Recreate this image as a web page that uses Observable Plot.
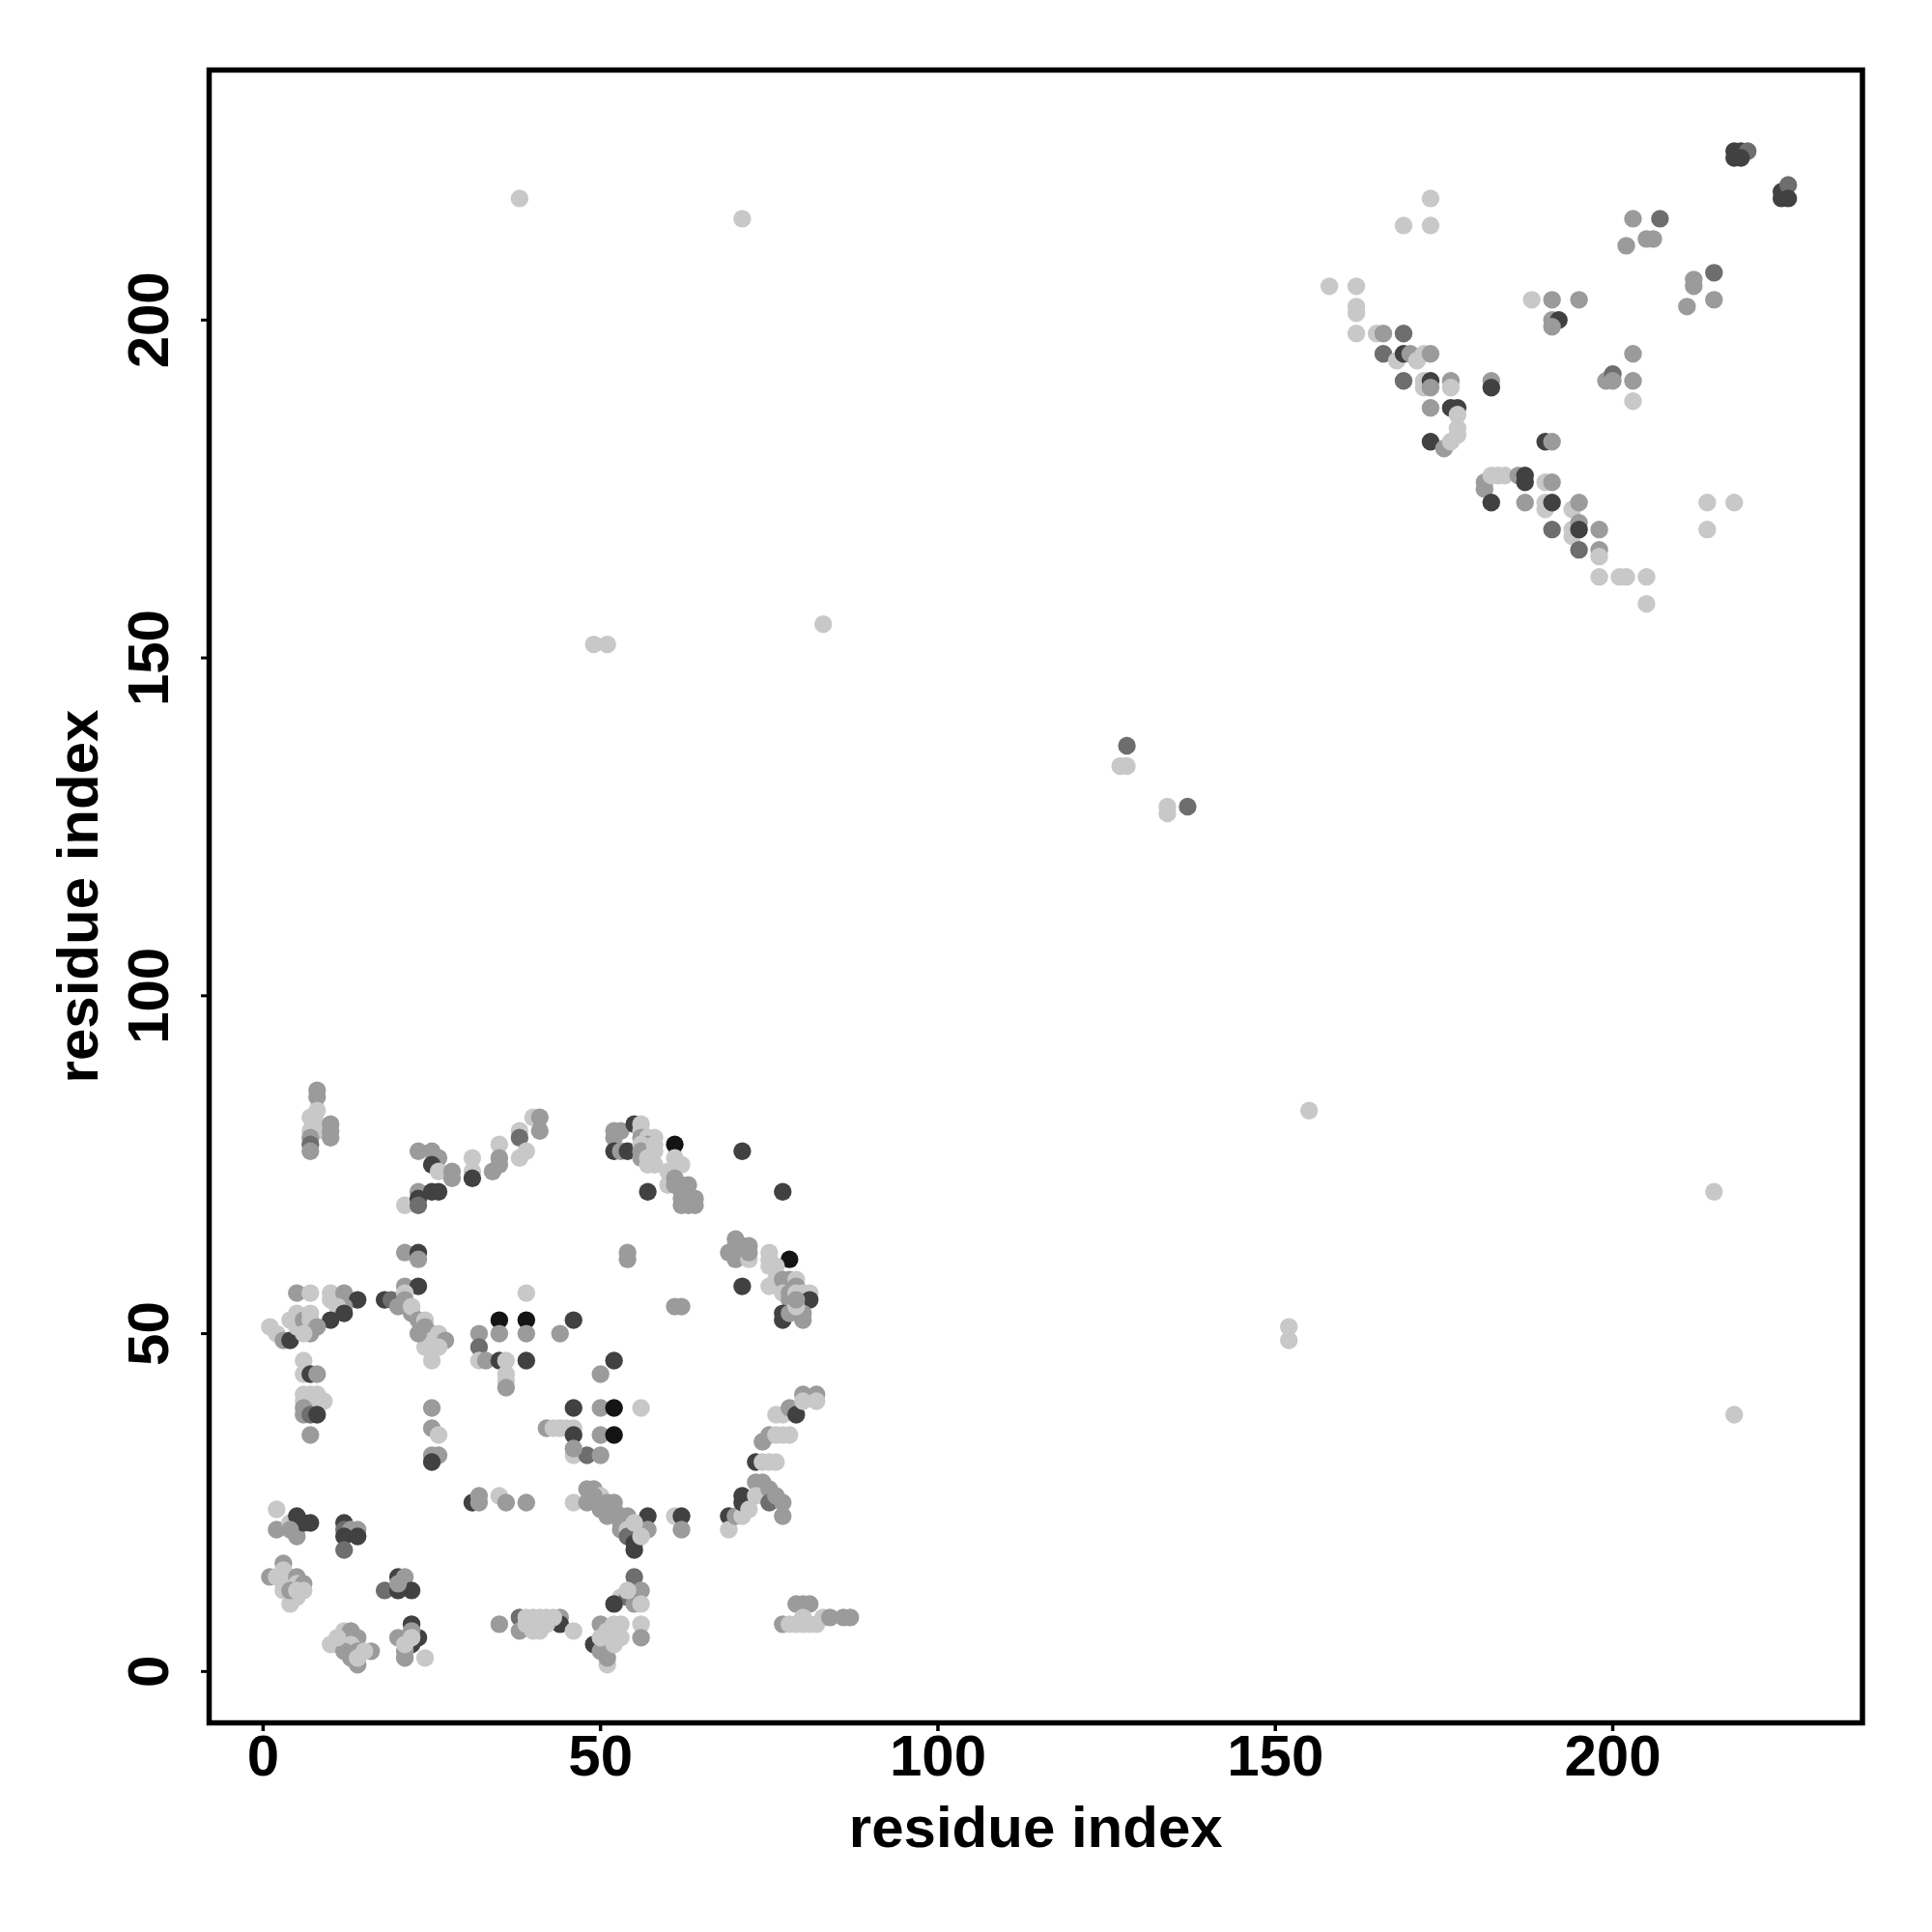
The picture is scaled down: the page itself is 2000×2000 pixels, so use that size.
<!DOCTYPE html>
<html>
<head>
<meta charset="utf-8">
<script src="https://cdn.jsdelivr.net/npm/d3@7"></script>
<script src="https://cdn.jsdelivr.net/npm/@observablehq/plot@0.6"></script>
<style>
  html, body { margin: 0; padding: 0; background: #ffffff; }
  #chart { width: 2000px; height: 2000px; }
</style>
</head>
<body>
<div id="chart"></div>
<script>
// Each contact: [residue i, residue j, contact strength level 1 (weak) .. 5 (strong)]
const lowerColumns = [
  [8,86,2],[8,85,2],[8,83,1],[7,82,1],[8,81,1],[8,80,1],[7,80,1],[7,79,2],[7,78,3],[7,77,2],
  [10,81,2],[10,80,2],[10,79,2],
  [6,46,1],[6,44,1],[7,44,4],[8,44,2],[6,41,1],[7,41,1],[8,41,1],[6,40,1],[7,40,1],[8,40,1],[9,40,1],
  [6,39,2],[6,38,2],[7,38,3],[8,38,4],[7,35,2]
];
const lowerDiagonalTop = [
  [21,69,1],[23,71,2],[23,70,4],[23,69,3],[23,77,2],[25,77,2],[26,76,2],[25,75,4],[26,74,1],[25,71,4],
  [26,71,4],[28,73,2],[28,74,2],[31,76,1],[31,74,1],[31,73,4],[34,74,2],[35,78,1],[35,76,2],[35,75,2],
  [38,80,1],[38,79,3],[39,77,1],[38,76,1],[40,82,1],[41,82,2],[41,80,2],
  [21,62,2],[23,62,4],[23,61,2],[21,57,2],[23,57,4]
];
const lowerLeftBlock = [
  [5,56,2],[7,56,1],[10,56,1],[10,55,1],[12,56,2],[14,55,4],[12,54,2],[11,54,1],[10,52,4],[12,53,4],
  [1,51,1],[2,50,1],[3,49,2],[4,49,4],[4,52,1],[5,53,1],[5,51,1],[6,52,2],[7,53,1],[7,52,1],[8,51,2],[7,50,2],[6,50,1],
  [18,55,4],[19,55,3],[20,54,2],[21,56,1],[21,55,2],[22,53,2],[22,54,1],[23,52,2],[24,52,1],[24,51,2],
  [25,50,2],[25,49,1],[26,50,1],[27,49,2],[25,46,1],[24,48,1],[23,50,2],[26,48,1],
  [39,56,1],[35,52,5],[39,52,5],[32,50,2],[35,50,2],[39,50,2],[44,50,2],[32,48,3],[32,46,1],[33,46,2],
  [35,46,4],[36,46,1],[39,46,4],[36,44,1],[36,43,1],[36,42,2],[46,52,4],
  [25,39,2],[25,36,2],[26,35,1],[25,32,2],[26,32,2],[25,31,4],
  [31,25,4],[32,25,2],[32,26,2],[35,26,1],[36,25,2],[39,25,2]
];
const lowerMiddle = [
  [42,36,2],[43,36,1],[44,36,1],[45,36,1],[46,36,1],[46,35,4],[50,35,2],[52,35,5],[46,32,1],[48,32,3],
  [50,32,2],[46,33,2],[46,39,4],[50,39,2],[52,39,5],[56,39,1],[50,44,2],[52,46,4],
  [46,25,1],[48,27,2],[49,27,2],[50,26,1],[48,25,2],[49,26,2],[51,25,2],[52,25,2],[50,24,2],[51,23,2],
  [52,24,2],[53,23,2],[54,23,2],[53,22,2],[53,21,2],[54,21,1],[55,21,1],[54,20,3],[55,19,4],[55,18,4],
  [57,23,4],[57,21,2],[56,20,1],[55,22,1],
  [61,23,1],[62,23,4],[62,21,2],
  [54,62,2],[54,61,2],[61,54,2],[62,54,2]
];
const lowerRight = [
  [69,23,4],[69,21,1],[70,23,2],[71,23,1],[71,26,4],[71,25,4],[72,24,1],[73,28,2],[74,28,2],[73,26,1],
  [75,27,2],[75,25,3],[76,26,2],[77,25,2],[77,23,2],[73,31,4],[74,31,1],[75,31,1],[76,31,1],[74,34,2],
  [75,35,2],[76,35,1],[77,35,1],[78,35,1],[76,38,1],[77,38,1],[78,39,2],[79,38,4],[80,41,2],[82,41,2],
  [82,40,1],[80,40,1],
  [52,80,2],[53,80,2],[52,79,2],[55,81,4],[56,81,1],[56,80,1],[52,77,4],[53,77,2],[54,77,4],[56,79,2],
  [57,79,1],[58,79,1],[57,78,2],[56,78,1],[56,77,2],[56,76,2],[57,76,1],[57,75,1],[58,75,1],[58,77,1],
  [58,78,1],[61,78,5],[61,76,1],[62,75,1],[60,74,1],[60,72,1],[61,73,2],[61,72,2],[62,72,2],[62,71,2],
  [63,72,2],[62,70,2],[63,70,2],[64,70,2],[62,69,2],[63,69,2],[64,69,2],[57,71,4],[71,77,4],[77,71,4],
  [69,62,2],[70,64,2],[70,63,2],[71,63,2],[72,63,2],[70,62,2],[71,62,2],[70,61,2],[72,61,1],[72,62,2],
  [71,57,4],[75,62,1],[75,61,1],[78,61,5],[75,60,1],[76,60,1],[75,57,1],[76,58,1],[77,58,2],[78,58,2],
  [79,58,1],[77,56,1],[78,56,2],[79,57,2],[78,55,2],[79,56,1],[80,56,1],[81,56,1],[81,55,4],[77,53,4],
  [77,52,4],[78,53,2],[80,53,2],[80,52,2],[79,54,1],[79,55,2]
];
const lowerBottom = [
  [1,14,2],[2,14,1],[3,16,2],[3,15,1],[3,13,1],[4,14,1],[5,14,2],[5,13,1],[6,13,2],[6,12,1],[4,10,1],
  [3,12,1],[5,11,1],[4,12,2],[5,12,1],
  [2,24,1],[2,21,2],[4,22,1],[5,23,4],[5,20,2],[6,22,4],[7,22,4],[4,21,2],
  [12,22,4],[12,21,3],[13,21,2],[14,21,2],[14,20,4],[12,20,4],[12,18,3],
  [18,12,3],[20,14,4],[21,14,2],[20,12,4],[22,12,4],[20,13,2],
  [10,4,1],[11,4,1],[12,6,1],[12,5,2],[13,6,2],[14,5,2],[13,4,1],[14,3,2],[16,3,2],[15,3,1],[14,1,2],
  [12,3,2],[13,2,2],[14,2,1],[11,5,1],
  [22,7,4],[23,5,4],[22,4,4],[22,6,2],[20,5,2],[21,2,2],[24,2,1],[21,3,2],[21,4,1],[22,5,1],
  [35,7,2],[38,8,3],[38,6,2],[39,8,1],[40,8,1],[41,8,1],[40,7,1],[39,7,1],[41,6,1],[40,6,1],
  [55,14,3],[56,12,2],[53,11,1],[54,11,3],[52,10,4],[55,10,2],[56,10,1],[54,12,1],[44,8,2],[44,7,4],
  [46,6,1],[42,7,1],[43,8,1],[42,8,1],[50,7,2],[51,6,1],[52,7,1],[53,7,1],[56,7,1],[56,5,2],[53,5,1],
  [52,6,1],[49,4,4],[50,3,2],[51,1,1],[51,2,2],[50,5,1],[52,4,1],
  [79,10,2],[80,10,2],[81,10,2],[77,7,2],[78,7,1],[79,7,1],[80,7,1],[81,7,1],[82,7,1],[80,8,1],[83,8,1],
  [84,8,2],[86,8,2],[87,8,2]
];
const scattered = [
  [38,218,1],[71,215,1],[49,152,1],[51,152,1],[83,155,1],[127,134,1],[128,134,1],[128,137,3],
  [134,128,1],[134,127,1],[137,128,3],[155,83,1],[152,51,1],[152,49,1],[215,71,1],[218,38,1],
  [214,173,1],[218,173,1],[214,169,1],[169,214,1],[173,214,1],[173,218,1]
];
const upperCluster = [
  [158,205,1],[162,205,1],[162,202,1],[162,201,1],[162,198,1],[165,198,1],[166,198,2],[169,198,3],
  [166,195,3],[168,194,1],[169,195,4],[170,195,2],[171,194,1],[172,195,1],[173,195,2],
  [169,191,3],[172,191,1],[172,190,1],[173,191,4],[173,190,2],[176,191,2],[176,190,1],[182,191,2],[182,190,4],
  [173,187,2],[176,187,4],[177,187,4],[177,186,1],[177,184,1],[177,183,1],[173,182,4],[175,181,2],[176,182,1],
  [190,182,4],[191,182,2],
  [181,176,2],[181,175,2],[182,177,1],[183,177,1],[184,177,1],[186,177,2],[187,177,4],[187,176,4],[190,176,1],[191,176,2],
  [182,173,4],[187,173,2],[190,173,1],[190,172,1],[191,173,4],[194,172,1],[195,173,2],
  [191,169,3],[194,168,1],[194,169,1],[195,170,2],[195,169,4],[198,169,2],
  [195,166,3],[198,166,2],[198,165,1],
  [198,162,1],[201,162,1],[202,162,1],[205,162,1],[205,158,1],
  [188,203,1],[191,203,2],[195,203,2],[191,200,2],[192,200,4],[191,199,2],
  [199,191,2],[200,192,3],[200,191,2],[203,195,2],[203,191,2],[203,188,1],
  [203,215,2],[207,215,3],[205,212,2],[206,212,2],[202,211,2],
  [215,207,3],[212,206,2],[212,205,2],[211,202,2],[215,203,2],
  [218,225,4],[219,225,4],[220,225,3],[218,224,4],[219,224,4],
  [225,218,4],[225,219,4],[226,220,3],[226,218,4]
];
const xTicks = [0, 50, 100, 150, 200];
const yTicks = [0, 50, 100, 150, 200];
const axisTitle = "residue index";

const contacts = [
  ...lowerColumns, ...lowerDiagonalTop, ...lowerLeftBlock, ...lowerMiddle,
  ...lowerRight, ...lowerBottom, ...scattered, ...upperCluster
].map(([i, j, level]) => ({i, j, level}));

const font = "'Liberation Sans', Arial, Helvetica, sans-serif";

const chart = Plot.plot({
  width: 2000,
  height: 2000,
  marginLeft: 216,
  marginRight: 72.5,
  marginTop: 72,
  marginBottom: 217,
  style: {fontFamily: font, background: "#ffffff", color: "#000000"},
  x: {domain: [-8, 237], ticks: xTicks},
  y: {domain: [-7.6, 237], ticks: yTicks},
  color: {type: "linear", domain: [1, 5], range: ["#c8c8c8", "#141414"]},
  marks: [
    Plot.dot(contacts, {x: "i", y: "j", fill: "level", r: 9.2}),
    Plot.frame({stroke: "#000000", strokeWidth: 5.5}),
    Plot.axisX({ticks: xTicks, tickSize: 9, tickPadding: 3, strokeWidth: 3.5,
      fontSize: 60, fontWeight: "bold", label: null, tickFormat: d => String(d)}),
    Plot.axisY({ticks: yTicks, tickSize: 8, strokeWidth: 3, label: null, tickFormat: () => ""}),
    Plot.text(yTicks, {y: d => d, text: d => String(d), frameAnchor: "left", dx: -43, rotate: -90,
      textAnchor: "middle", lineAnchor: "bottom", fontSize: 60, fontWeight: "bold", fill: "#000000"}),
    Plot.text([axisTitle], {frameAnchor: "bottom", dy: 128, lineAnchor: "bottom",
      fontSize: 60, fontWeight: "bold", fill: "#000000"}),
    Plot.text([axisTitle], {frameAnchor: "left", dx: -116, rotate: -90, textAnchor: "middle",
      lineAnchor: "bottom", fontSize: 60, fontWeight: "bold", fill: "#000000"})
  ]
});
document.getElementById("chart").appendChild(chart);
</script>
</body>
</html>
